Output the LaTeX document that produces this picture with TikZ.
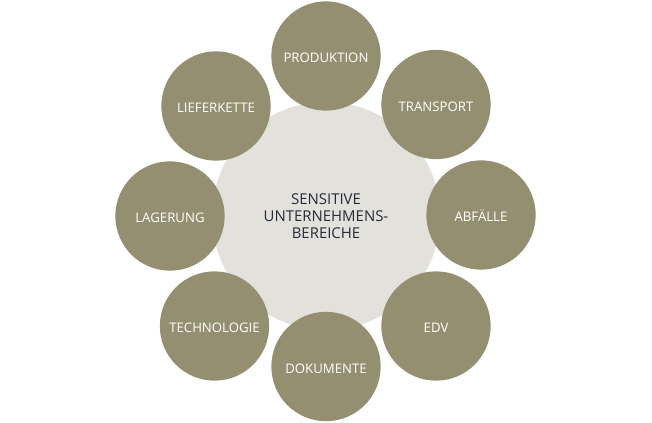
\documentclass[tikz,border=0pt]{standalone}
\usepackage{fontspec}
\setmainfont{Open Sans}
\usepackage{xcolor}
\usepackage{tikz}

\definecolor{olive}{HTML}{958F72}
\definecolor{stone}{HTML}{E3E1DC}
\definecolor{ink}{HTML}{262A38}

\begin{document}
\begin{tikzpicture}[x=0.75pt, y=0.75pt, every node/.style={circle, inner sep=0pt, align=center}]
    \useasboundingbox (0,0) rectangle (652,422);
    \node[fill=stone, minimum size=171pt, text=ink, font=\fontsize{11.2}{12.8}\selectfont] (core) at (326,206) {SENSITIVE\\UNTERNEHMENS-\\BEREICHE};

    \tikzset{area/.style={fill=olive, minimum size=82pt, text=white, text height=10pt, text depth=0pt, font=\fontsize{9.9}{11}\selectfont}}
    \node[area] (prod) at (326,366) {PRODUKTION};
    \node[area] (trans) at (436,317.5) {TRANSPORT};
    \node[area] (abf) at (481,207) {ABFÄLLE};
    \node[area] (edv) at (436,96) {EDV};
    \node[area] (doku) at (326,55.5) {DOKUMENTE};
    \node[area] (tech) at (214.5,96) {TECHNOLOGIE};
    \node[area] (lager) at (170,206) {LAGERUNG};
    \node[area] (liefer) at (216,316) {LIEFERKETTE};
\end{tikzpicture}
\end{document}
